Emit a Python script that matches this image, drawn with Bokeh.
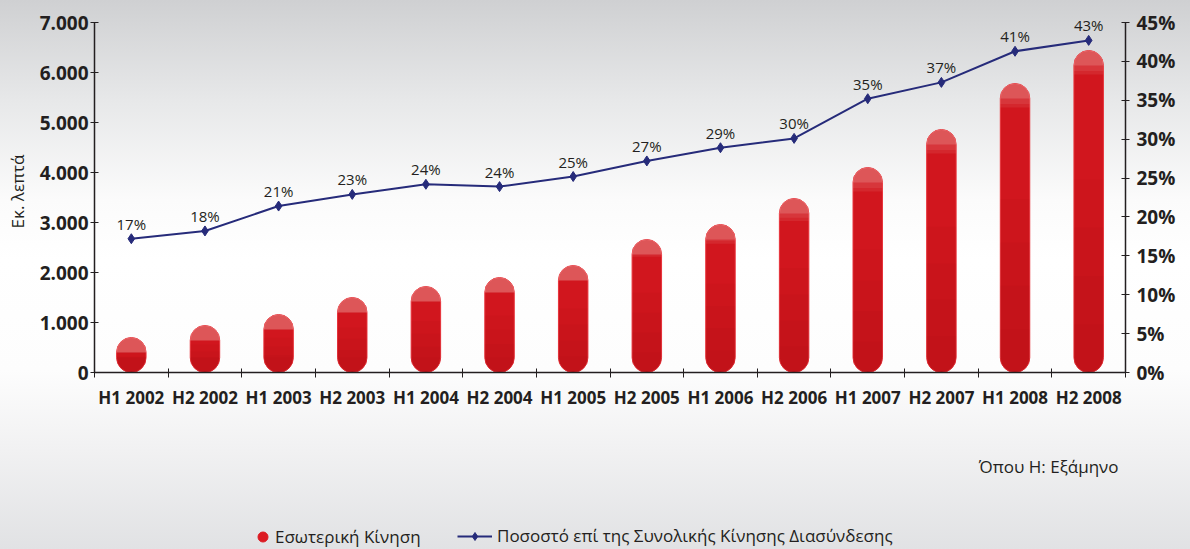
from bokeh.plotting import figure
from bokeh.layouts import column
from bokeh.models import (Range1d, LinearAxis, FixedTicker, Legend, LegendItem,
                          Label, ColumnDataSource)
from bokeh.core.properties import value
from bokeh.embed import file_html
from bokeh.resources import INLINE

# ---------------- data ----------------
categories = ["H1 2002", "H2 2002", "H1 2003", "H2 2003", "H1 2004", "H2 2004",
              "H1 2005", "H2 2005", "H1 2006", "H2 2006", "H1 2007", "H2 2007",
              "H1 2008", "H2 2008"]
domestic = [700, 940, 1160, 1500, 1720, 1900, 2140, 2660, 2960, 3480, 4100,
            4860, 5780, 6440]
share_pct = [17.2, 18.2, 21.4, 22.9, 24.2, 23.9, 25.2, 27.2, 28.9, 30.1, 35.2,
             37.3, 41.3, 42.7]
left_ticks = [0, 1000, 2000, 3000, 4000, 5000, 6000, 7000]
right_ticks = [0, 5, 10, 15, 20, 25, 30, 35, 40, 45]
bar_name = "Εσωτερική Κίνηση"
line_name = "Ποσοστό επί της Συνολικής Κίνησης Διασύνδεσης"
y_title = "Εκ. λεπτά"
note = "Όπου Η: Εξάμηνο"

FONT = "Open Sans"
TXT = "#231f20"
RED = "#d1161e"
NAVY = "#262b7a"
NAN = float("nan")

# axis spans 350px (0..7000 / 0..45%); the frame gets 12px extra headroom so
# that the top value label is not clipped
AXIS_PX, HEAD_PX = 350, 12
stretch = (AXIS_PX + HEAD_PX) / AXIS_PX
left_max, right_max = left_ticks[-1], right_ticks[-1]

centers = [i + 0.5 for i in range(len(categories))]
bounds = list(range(len(categories) + 1))

p = figure(width=1190, height=420, output_backend="svg", toolbar_location=None,
           title=None, x_range=Range1d(0, len(categories)),
           y_range=Range1d(0, left_max * stretch),
           min_border_left=94, min_border_top=22 - HEAD_PX, min_border_right=65,
           min_border_bottom=48)
p.background_fill_color = None
p.border_fill_color = None
p.outline_line_color = None
p.grid.visible = False

p.extra_y_ranges = {"pct": Range1d(0, right_max * stretch)}

# ---------------- bars (pills) ----------------
src = ColumnDataSource(dict(x=centers, top=domestic))
p.vbar(x="x", top="top", bottom=0, width=0.4, source=src, fill_color=RED,
       line_color="#e8323a", line_width=1, border_radius=15)

# bottom shading (soft, several thin layers)
for frac in (0.6, 0.45, 0.3, 0.15):
    bot_depth = [max(300, frac * v) for v in domestic]
    p.vbar(x=centers, top=bot_depth, bottom=0, width=0.4, fill_color="#6a0006",
           fill_alpha=0.035, line_color=None, border_radius=(0, 0, 15, 15))
# glossy top cap
for frac, alpha in [(1.0, 0.08), (0.85, 0.08), (0.0, 0.10), (0.0, 0.08)]:
    depth = [max(300, frac * min(480, 0.13 * v)) for v in domestic]
    p.vbar(x=centers, top=domestic, bottom=[v - d for v, d in zip(domestic, depth)],
           width=0.4, fill_color="#fff2ea", fill_alpha=alpha, line_color=None,
           border_radius=(15, 15, 0, 0))

# ---------------- line ----------------
p.line(centers, share_pct, y_range_name="pct", line_color=NAVY, line_width=2)
p.scatter(centers, share_pct, y_range_name="pct", marker="diamond", size=10,
          fill_color=NAVY, line_color=NAVY)
p.text(x=centers, y=share_pct, text=[f"{round(v)}%" for v in share_pct],
       y_range_name="pct", text_align="center", text_baseline="alphabetic",
       y_offset=-15, text_font=value(FONT), text_font_size="15px", text_color=TXT)

# ---------------- axes ----------------
xa = p.xaxis[0]
xa.ticker = FixedTicker(ticks=centers, minor_ticks=bounds)
xa.major_label_overrides = {c: lab for c, lab in zip(centers, categories)}
xa.major_tick_in = 0
xa.major_tick_out = 0
xa.minor_tick_in = 4
xa.minor_tick_out = 5
xa.minor_tick_line_color = TXT
xa.axis_line_color = TXT
xa.axis_line_width = 1.5
xa.major_label_standoff = 8
xa.major_label_text_font = FONT
xa.major_label_text_font_style = "bold"
xa.major_label_text_font_size = "17px"
xa.major_label_text_color = TXT

ya = p.yaxis[0]
ya.ticker = FixedTicker(ticks=left_ticks)
ya.bounds = (0, left_max)
ya.major_label_overrides = {t: f"{t:,}".replace(",", ".") for t in left_ticks}
ya.axis_label = y_title
ya.axis_label_text_font = FONT
ya.axis_label_text_font_style = "normal"
ya.axis_label_text_font_size = "17px"
ya.axis_label_text_color = TXT
ya.axis_label_standoff = 8

ra = LinearAxis(y_range_name="pct", ticker=FixedTicker(ticks=right_ticks),
                bounds=(0, right_max))
ra.major_label_overrides = {t: f"{t}%" for t in right_ticks}
p.add_layout(ra, "right")

for ax in (ya, ra):
    ax.major_tick_in = 4
    ax.major_tick_out = 4
    ax.minor_tick_in = 0
    ax.minor_tick_out = 0
    ax.major_tick_line_color = TXT
    ax.axis_line_color = TXT
    ax.axis_line_width = 1.5
    ax.major_label_text_font = FONT
    ax.major_label_text_font_style = "bold"
    ax.major_label_text_font_size = "19px"
    ax.major_label_text_color = TXT
ya.major_label_standoff = 2
ra.major_label_standoff = 7

# ---------------- footer: note + legend ----------------
# (the column layout aligns this figure's frame with the main frame: x 94..1125)
f2 = figure(width=1190, height=129, output_backend="svg", toolbar_location=None,
            title=None, x_range=Range1d(0, 1), y_range=Range1d(0, 1),
            x_axis_location=None, y_axis_location=None,
            min_border_left=0, min_border_right=0, min_border_top=0,
            min_border_bottom=0)
f2.background_fill_color = None
f2.border_fill_color = None
f2.outline_line_color = None
f2.grid.visible = False

dot = f2.scatter(x=[NAN], y=[NAN], marker="circle", fill_color="#dc1a22",
                 line_color="#dc1a22")
ln2 = f2.line(x=[NAN], y=[NAN], line_color=NAVY, line_width=2)
mk2 = f2.scatter(x=[NAN], y=[NAN], marker="diamond", fill_color=NAVY,
                 line_color=NAVY)

common = dict(padding=0, margin=0, border_line_color=None,
              background_fill_alpha=0, label_text_font=FONT,
              label_text_font_size="17px", label_text_color=TXT)
legA = Legend(items=[LegendItem(label=bar_name, renderers=[dot])],
              location=(156, 0), glyph_width=25, glyph_height=25,
              label_standoff=-3, **common)
legB = Legend(items=[LegendItem(label=line_name, renderers=[ln2, mk2])],
              location=(363, 2), glyph_width=35, glyph_height=20,
              label_standoff=5, **common)
f2.add_layout(legA)
f2.add_layout(legB)
f2.add_layout(Label(x=1024, y=83, x_units="screen", y_units="screen", text=note,
                    text_align="right", text_baseline="middle", text_font=FONT,
                    text_font_size="17px", text_color=TXT))

layout = column(p, f2, spacing=0)
layout.styles = {"background": "linear-gradient(to bottom, #cfd0d2 0px, #e7e8e9 100px, "
                               "#fbfbfb 200px, #ffffff 260px, #fdfdfd 370px, "
                               "#f1f1f2 450px, #e1e2e4 549px)"}

open("out.html", "w").write(file_html(layout, INLINE))
